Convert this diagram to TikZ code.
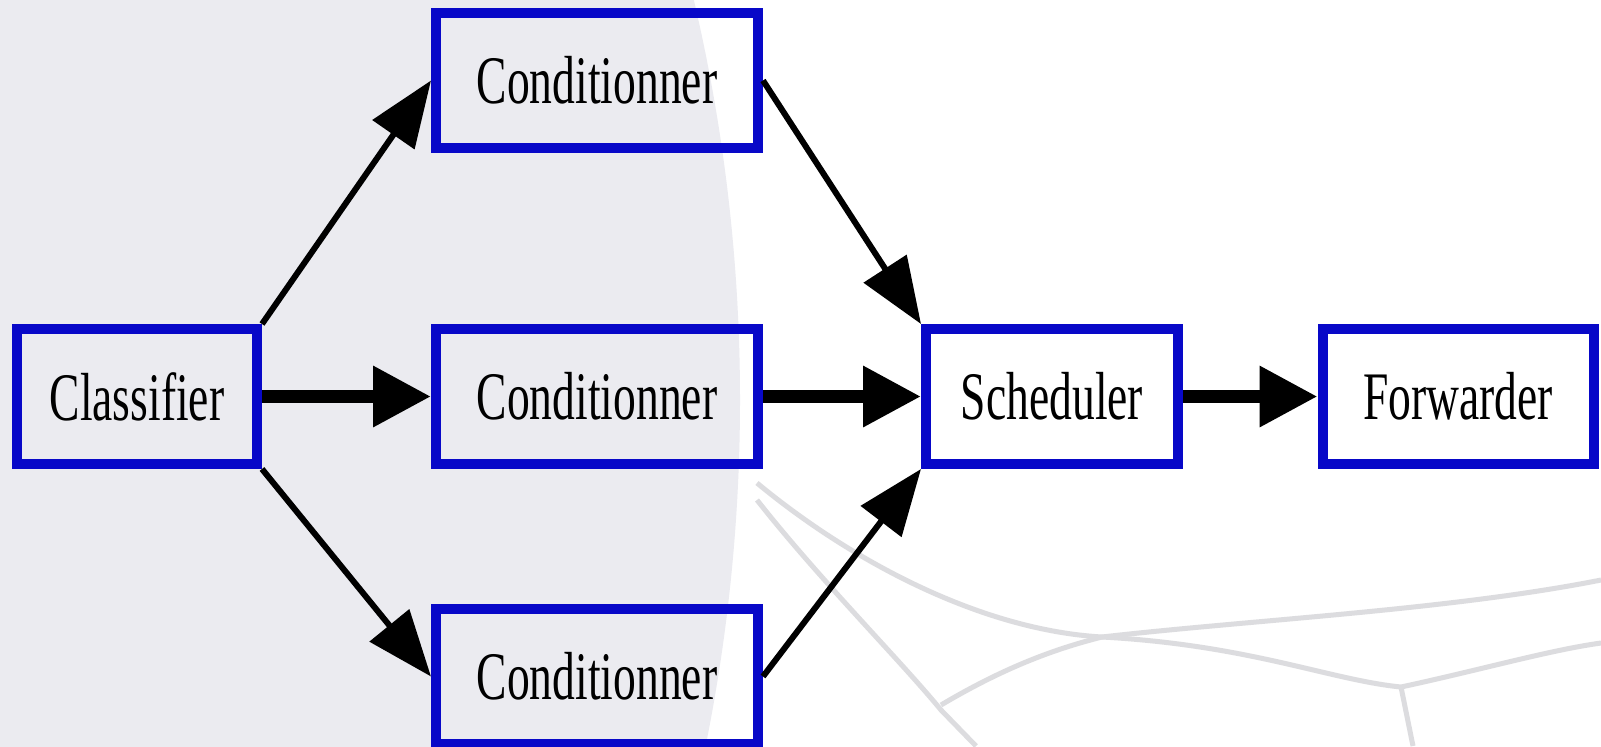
\documentclass[tikz,border=0pt]{standalone}
\usepackage{fontspec}
\setmainfont[FakeStretch=0.67]{Liberation Serif}
\usetikzlibrary{arrows.meta}
\definecolor{boxblue}{RGB}{8,8,200}
\definecolor{globegray}{RGB}{235,235,240}
\definecolor{netgray}{RGB}{220,220,223}
\tikzset{
    blue-box/.style = {draw=boxblue, line width=5pt, rectangle, minimum height=67.5pt, inner sep=0pt, font=\fontsize{34}{40}\selectfont},
    flow-arrow/.style = {line width=6.5pt, -{Triangle[length=29pt,width=29pt]}},
    side-arrow/.style = {line width=3pt, -{Triangle[length=33pt,width=25pt]}},
    net-line/.style = {draw=netgray, line width=2.5pt},
}

\begin{document}
\begin{tikzpicture}[x=0.5pt, y=-0.5pt]
\useasboundingbox (0,0) rectangle (1601,746);
% background: globe and net
\fill[white] (0,0) rectangle (1601,746);
\fill[globegray] (-1000,400) circle [radius=1740];
\draw[net-line] (757,483) .. controls (850,560) and (980,630) .. (1102,637) .. controls (1250,645) and (1330,680) .. (1401,687) .. controls (1480,670) and (1550,650) .. (1601,643);
\draw[net-line] (1102,637) .. controls (1250,620) and (1450,610) .. (1601,580);
\draw[net-line] (757,500) .. controls (820,580) and (900,660) .. (941,710) -- (976,746);
\draw[net-line] (941,705) .. controls (1000,670) and (1050,650) .. (1102,637);
\draw[net-line] (1401,687) -- (1413,746);

\node[blue-box, minimum width=120pt] (classifier) at (137,396.5) {Classifier};
\node[blue-box, minimum width=161pt] (cond-top) at (597,80.5) {Conditionner};
\node[blue-box, minimum width=161pt] (cond-mid) at (597,396.5) {Conditionner};
\node[blue-box, minimum width=161pt] (cond-bot) at (597,676.5) {Conditionner};
\node[blue-box, minimum width=126pt] (scheduler) at (1052,396.5) {Scheduler};
\node[blue-box, minimum width=135.5pt] (forwarder) at (1458,396.5) {Forwarder};

\draw[side-arrow] (classifier.north east) -- (cond-top.west);
\draw[flow-arrow] (classifier.east) -- (cond-mid.west);
\draw[side-arrow] (classifier.south east) -- (cond-bot.west);
\draw[side-arrow] (cond-top.east) -- (scheduler.north west);
\draw[flow-arrow] (cond-mid.east) -- (scheduler.west);
\draw[side-arrow] (cond-bot.east) -- (scheduler.south west);
\draw[flow-arrow] (scheduler.east) -- (forwarder.west);
\end{tikzpicture}
\end{document}
